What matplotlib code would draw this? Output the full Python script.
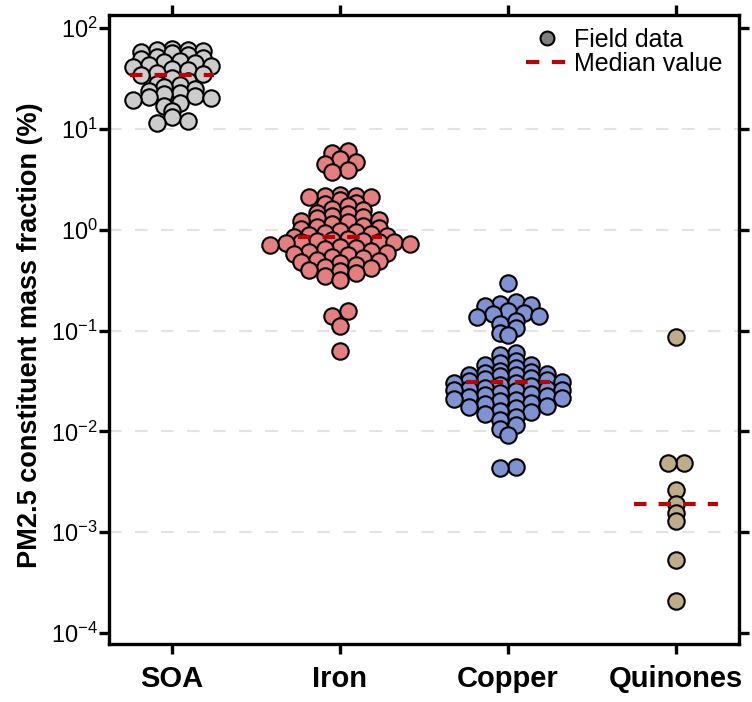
import numpy as np
import matplotlib
matplotlib.use("Agg")
import matplotlib.pyplot as plt
from matplotlib.lines import Line2D
from matplotlib.ticker import LogLocator, LogFormatterSciNotation, NullLocator

plt.rcParams['font.family'] = ['Liberation Sans', 'DejaVu Sans']
plt.rcParams['axes.unicode_minus'] = False

# data (%)
categories = ['SOA', 'Iron', 'Copper', 'Quinones']
soa = [62, 61, 60, 59, 58,
       56, 54, 52, 50, 49,
       47, 46, 45, 43, 42, 41,
       39, 38, 36, 35, 34,
       32, 30, 28,
       27, 26, 25, 24,
       22.5, 22, 21, 20.5, 20, 19.5,
       18, 17,
       15,
       13, 12, 11.5]
iron = [6.0, 5.8, 5.0, 4.7, 4.5, 3.9, 3.7,
        2.2, 2.17, 2.15, 2.12, 2.1,
        1.95, 1.85, 1.78,
        1.7, 1.62, 1.55, 1.48,
        1.42, 1.38, 1.33, 1.3, 1.25, 1.21,
        1.18, 1.15, 1.1, 1.07, 1.04, 1.01,
        0.98, 0.95, 0.92, 0.9, 0.88, 0.86, 0.84,
        0.81, 0.79, 0.78, 0.77, 0.76, 0.76, 0.75, 0.74, 0.72, 0.7,
        0.68, 0.66, 0.64, 0.62, 0.6, 0.59, 0.58,
        0.56, 0.54, 0.52, 0.5, 0.49, 0.48,
        0.47, 0.45, 0.43, 0.42, 0.4,
        0.39, 0.37, 0.35,
        0.32,
        0.155, 0.14, 0.11, 0.063]
copper = [0.297,
          0.19, 0.185, 0.18, 0.175,
          0.155, 0.15, 0.145, 0.14, 0.135,
          0.125, 0.115,
          0.105, 0.095,
          0.09,
          0.06, 0.057,
          0.05, 0.048, 0.046, 0.045,
          0.042, 0.04, 0.039, 0.038, 0.037, 0.0365,
          0.036, 0.035, 0.034, 0.033, 0.032, 0.0315, 0.031, 0.0305,
          0.03, 0.029, 0.028, 0.027, 0.0265, 0.026, 0.0258, 0.0255,
          0.025, 0.024, 0.0235, 0.023, 0.0225, 0.022, 0.0215, 0.021,
          0.0205, 0.02, 0.019, 0.0185, 0.018, 0.0175,
          0.017, 0.016, 0.0155, 0.015,
          0.014, 0.013,
          0.0115, 0.0105,
          0.0092,
          0.0044, 0.0043]
quinones = [0.086, 0.0048, 0.0048, 0.0026, 0.0019, 0.00155, 0.0013, 0.00053, 0.00021]

groups = [soa, iron, copper, quinones]
fill_colors = ['#cccccc', '#e57f7f', '#7f92d2', '#bfad8a']
median_color = '#c00000'

fig = plt.figure(figsize=(7.52, 7.02), dpi=100)
ax = fig.add_axes([109 / 752, 1 - 644 / 702, 630 / 752, 629 / 702])
ax.set_yscale('log')
ax.set_xlim(-0.375, 3.375)
ax.set_ylim(10 ** -4.109, 10 ** 2.129)


def spread(vals, h=0.08, s=15.5):
    # points in the same log bin are laid side by side, centre first
    logs = np.log10(vals)
    bins = np.floor(logs / h)
    offs = np.zeros(len(vals))
    for b in np.unique(bins):
        idx = np.where(bins == b)[0]
        idx = idx[np.argsort(-logs[idx], kind='stable')]
        n = len(idx)
        slots = ((n - 1) / 2 - np.arange(n)) * s
        offs[idx] = slots[np.argsort(np.abs(slots), kind='stable')]
    return offs


px_per_unit = ax.transData.transform((1, 1))[0] - ax.transData.transform((0, 1))[0]

# grid
for g in [1e1, 1e0, 1e-1, 1e-2, 1e-3]:
    ax.axhline(g, color='#e3e3e3', lw=1.5, dashes=(6, 6.5), zorder=0)

for i, vals in enumerate(groups):
    vals = np.asarray(vals, dtype=float)
    offs = spread(vals) / px_per_unit
    ax.scatter(i + offs, vals, s=140, c=fill_colors[i], edgecolors='black',
               linewidths=1.5, zorder=3)
    med = np.median(vals)
    ax.plot([i - 0.25, i + 0.25], [med, med], color=median_color, lw=3,
            dashes=(3.0, 2.9), zorder=4, solid_capstyle='butt')

ax.set_xticks(range(len(categories)))
ax.set_xticklabels(categories, fontsize=21, fontweight='bold')
ax.yaxis.set_major_locator(LogLocator(base=10, numticks=10))
ax.yaxis.set_major_formatter(LogFormatterSciNotation())
ax.yaxis.set_minor_locator(NullLocator())
ax.tick_params(axis='both', direction='out', length=7, width=2.4,
               top=True, right=True, color='black')
ax.tick_params(axis='y', labelsize=17, pad=1)
ax.tick_params(axis='x', pad=8)
for sp in ax.spines.values():
    sp.set_linewidth(2.4)

fig.text(30 / 752, 1 - 335 / 702, 'PM2.5 constituent mass fraction (%)',
         rotation=90, ha='center', va='center', fontsize=19.5, fontweight='bold')

handles = [Line2D([], [], ls='none', marker='o', markersize=10,
                  markerfacecolor='#808080', markeredgecolor='black', markeredgewidth=1.5),
           Line2D([], [], color=median_color, lw=3, dashes=(3.2, 3.0))]
ax.legend(handles, ['Field data', 'Median value'], loc='upper left',
          bbox_to_anchor=(526 / 752, 1 - 28 / 702), bbox_transform=fig.transFigure,
          frameon=False, fontsize=18, handlelength=1.7, handletextpad=0.2,
          labelspacing=0.0, borderpad=0, borderaxespad=0)

fig.savefig('out.png', dpi=100)
